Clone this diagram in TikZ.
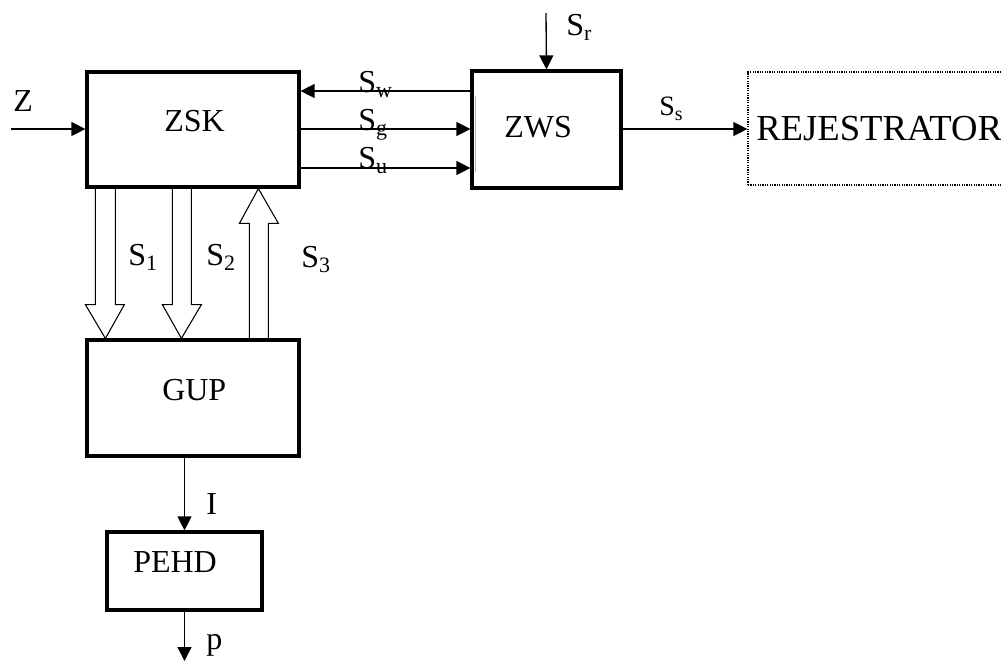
\documentclass[tikz,border=0pt]{standalone}
\usepackage{fontspec}
\setmainfont{Liberation Serif}
\usetikzlibrary{arrows.meta,calc}
\newcommand{\Ssub}[2][16.5]{S\raisebox{-0.18em}{\fontsize{#1}{#1}\selectfont #2}}
\begin{document}
\begin{tikzpicture}[x=0.75pt,y=-0.75pt,
  box/.style={draw,line width=2.4pt,inner sep=0},
  conn/.style={line width=1pt,-{Triangle[length=10.5pt,width=10.5pt]}},
  hollow/.style={line width=0.8pt,line join=miter},
  txt/.style={inner sep=0,anchor=base west,font=\fontsize{24}{28}\selectfont}]
\useasboundingbox (0,0) rectangle (1001,661);
% boxes
\node[box,minimum width=159pt,minimum height=86.25pt] (zsk) at (193,129.5) {};
\node[box,minimum width=111.75pt,minimum height=87.75pt] (zws) at (546.5,129.5) {};
\node[draw,line width=0.9pt,dash pattern=on 0.9pt off 0.9pt,inner sep=0,minimum width=219pt,minimum height=84.75pt] (rej) at (894,128.5) {};
\node[box,minimum width=159pt,minimum height=87pt] (gup) at (193,398) {};
\node[box,minimum width=116.25pt,minimum height=58.5pt] (pehd) at (184.5,571) {};
% box texts
\node[txt] (zskt) at (164,131) {ZSK};
\node[txt] (zwst) at (504,137) {ZWS};
\node[txt,font=\fontsize{27.5}{32}\selectfont] (rejt) at (756,140) {REJESTRATOR};
\node[txt] (gupt) at (162,400) {GUP};
\node[txt] (pehdt) at (133,572) {PEHD};
% thin inner line on ZWS
\draw[gray!60,line width=0.6pt] (475,96) -- (475,172);
% free ends
\coordinate (zin) at (11,129);
\coordinate (srin) at (546,13);
\coordinate (pout) at (184.5,661);
\coordinate (yw) at (0,91);
\coordinate (yg) at (0,129);
\coordinate (yu) at (0,168);
% connectors
\draw[conn] (zin) -- (zsk.west |- zin);
\draw[conn] (zws.west |- yw) -- (zsk.east |- yw);
\draw[conn] (zsk.east |- yg) -- (zws.west |- yg);
\draw[conn] (zsk.east |- yu) -- (zws.west |- yu);
\draw[conn] (srin) -- (zws.north);
\draw[conn] (zws.east |- yg) -- (rej.west |- yg);
\draw[conn] (pehd.north |- gup.south) -- (pehd.north);
\draw[conn] (pehd.south) -- (pout);
% hollow arrows
\draw[hollow] ($(zsk.south west)+(10,0)$) -- ($(zsk.south west)+(10,116)$) -- ($(zsk.south west)+(0,116)$) -- ($(gup.north west)+(20,0)$) -- ($(zsk.south west)+(39,116)$) -- ($(zsk.south west)+(30,116)$) -- ($(zsk.south west)+(30,0)$);
\draw[hollow] ($(zsk.south west)+(87,0)$) -- ($(zsk.south west)+(87,116)$) -- ($(zsk.south west)+(77,116)$) -- ($(gup.north west)+(96,0)$) -- ($(zsk.south west)+(116,116)$) -- ($(zsk.south west)+(106,116)$) -- ($(zsk.south west)+(106,0)$);
\draw[hollow] ($(gup.north west)+(164,0)$) -- ($(gup.north west)+(164,-115)$) -- ($(gup.north west)+(154,-115)$) -- ($(zsk.south west)+(173,0)$) -- ($(gup.north west)+(193,-115)$) -- ($(gup.north west)+(183,-115)$) -- ($(gup.north west)+(183,0)$);
% labels
\node[txt] (lz) at (13,111) {Z};
\node[txt] (lw) at (358,92) {\Ssub{w}};
\node[txt] (lg) at (358,130) {\Ssub{g}};
\node[txt] (lu) at (358,168) {\Ssub{u}};
\node[txt] (lr) at (566,35) {\Ssub{r}};
\node[txt,font=\fontsize{21}{25}\selectfont] (ls) at (659,115) {\Ssub[15]{s}};
\node[txt] (l1) at (128,265) {\Ssub{1}};
\node[txt] (l2) at (206,265) {\Ssub{2}};
\node[txt] (l3) at (301,267) {\Ssub{3}};
\node[txt] (li) at (206,514) {I};
\node[txt] (lp) at (206,649) {p};
\end{tikzpicture}
\end{document}
